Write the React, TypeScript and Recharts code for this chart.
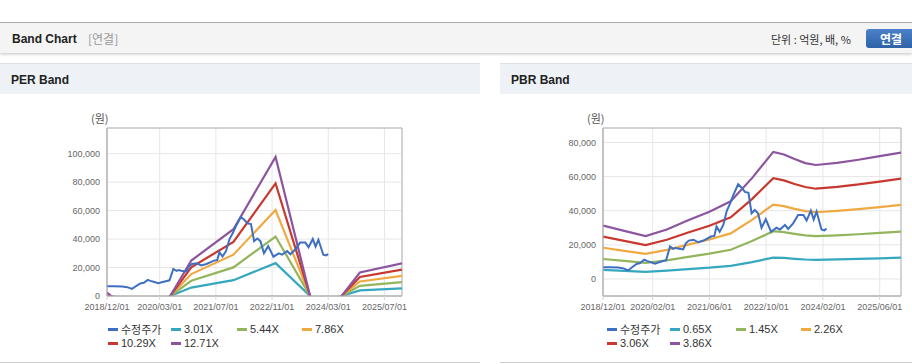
import React from 'react';
import { LineChart, Line, XAxis, YAxis, CartesianGrid, ReferenceArea } from 'recharts';

// ---------- data ----------
const axisStart = '2018/12/01';
const axisEnd = '2025/12/01';

const perTickLabels = ['2018/12/01', '2020/03/01', '2021/07/01', '2022/11/01', '2024/03/01', '2025/07/01'];
const pbrTickLabels = ['2018/12/01', '2020/02/01', '2021/06/01', '2022/10/01', '2024/02/01', '2025/06/01'];

const perYTicks = [0, 20000, 40000, 60000, 80000, 100000];
const perYDomain = [0, 118000];
const pbrYTicks = [0, 20000, 40000, 60000, 80000];
const pbrYDomain = [-10000, 88500];

// adjusted share price
const priceDates = [
  '2018/12/01', '2019/02/01', '2019/04/10', '2019/05/25', '2019/07/04', '2019/08/10', '2019/09/15', '2019/10/15',
  '2019/11/20', '2019/12/12', '2020/01/07', '2020/02/22', '2020/03/18', '2020/04/15', '2020/05/25', '2020/06/28',
  '2020/07/25', '2020/08/15', '2020/09/04', '2020/10/19', '2020/11/13', '2020/12/07', '2021/01/16', '2021/02/28',
  '2021/04/10', '2021/05/22', '2021/06/19', '2021/07/13', '2021/08/01', '2021/08/28', '2021/09/28', '2021/10/28',
  '2021/11/25', '2021/12/22', '2022/02/04', '2022/03/04', '2022/04/01', '2022/05/01', '2022/05/28', '2022/06/25',
  '2022/07/22', '2022/08/22', '2022/09/28', '2022/11/13', '2022/12/28', '2023/01/28', '2023/03/10', '2023/04/07',
  '2023/05/19', '2023/07/01', '2023/08/16', '2023/09/13', '2023/10/19', '2023/11/13', '2023/12/07', '2024/01/19',
  '2024/02/13', '2024/03/01',
];
const priceValues = [
  6800, 6900, 6700, 6200, 5000, 7000, 8800, 9300,
  11300, 10600, 10000, 9000, 9600, 10200, 11000, 19000,
  17600, 18300, 17800, 17300, 21000, 22500, 23000, 21500,
  22500, 24000, 25000, 25200, 30800, 27700, 31500, 40000,
  44000, 49000, 55500, 53500, 51000, 50500, 38500, 40400,
  38500, 30000, 35000, 27600, 30000, 29000, 31600, 29300,
  32600, 37500, 37500, 34200, 40000, 34800, 39500, 29000,
  28500, 29500,
];

// PER band (year-end points)
const perBandDates = ['2018/12/01', '2019/12/01', '2020/12/01', '2021/12/01', '2022/12/01', '2023/12/01', '2024/12/01', '2025/12/01'];
const per301 = [600, -5900, 5900, 11100, 23100, -5100, 3900, 5400];
const per544 = [1100, -10700, 10700, 20100, 41800, -9200, 7100, 9800];
const per786 = [1600, -15400, 15400, 29000, 60400, -13400, 10200, 14100];
const per1029 = [2100, -20200, 20200, 38000, 79100, -17500, 13400, 18500];
const per1271 = [2500, -24900, 24900, 46900, 97700, -21600, 16500, 22900];

// PBR band
const pbrBandDates = [
  '2018/12/01', '2019/06/01', '2019/12/01', '2020/06/01', '2020/12/01', '2021/06/01', '2021/12/01', '2022/06/01',
  '2022/12/01', '2023/03/01', '2023/06/01', '2023/09/01', '2023/12/01', '2024/06/01', '2024/12/01', '2025/06/01', '2025/12/01',
];
const pbr065 = [5300, 4700, 4200, 4900, 5800, 6600, 7700, 9900, 12500, 12300, 11800, 11400, 11200, 11500, 11800, 12100, 12500];
const pbr145 = [11700, 10600, 9400, 10900, 12900, 14800, 17100, 22200, 28000, 27400, 26400, 25500, 25100, 25600, 26200, 27000, 27800];
const pbr226 = [18300, 16500, 14700, 17000, 20100, 23100, 26700, 34600, 43600, 42700, 41100, 39800, 39100, 39900, 40900, 42100, 43400];
const pbr306 = [24800, 22300, 19900, 23000, 27200, 31200, 36100, 46800, 59100, 57800, 55700, 53900, 52900, 54000, 55400, 57100, 58800];
const pbr386 = [31300, 28200, 25100, 29000, 34400, 39400, 45500, 59100, 74500, 73000, 70300, 67900, 66800, 68100, 69900, 72000, 74100];

const perNames = ['수정주가', '3.01X', '5.44X', '7.86X', '10.29X', '12.71X'];
const pbrNames = ['수정주가', '0.65X', '1.45X', '2.26X', '3.06X', '3.86X'];
const seriesColors = ['#3e6fc2', '#35a8c0', '#93b55b', '#f0a941', '#c8382e', '#8d559f'];

// ---------- helpers ----------
const toMonths = (s: string) => {
  const [y, m, d] = s.split('/').map(Number);
  const [y0, m0] = axisStart.split('/').map(Number);
  return (y - y0) * 12 + (m - m0) + ((d || 1) - 1) / 30.4;
};
const rows = (dates: string[], values: number[]) => dates.map((d, i) => ({ m: toMonths(d), v: values[i] }));
const fmt = (v: number) => v.toLocaleString('en-US');

const priceRows = rows(priceDates, priceValues);
const perSeries = [priceRows, ...[per301, per544, per786, per1029, per1271].map((a) => rows(perBandDates, a))];
const pbrSeries = [priceRows, ...[pbr065, pbr145, pbr226, pbr306, pbr386].map((a) => rows(pbrBandDates, a))];

const FONT = '"Liberation Sans", Arial, "Noto Sans CJK KR", sans-serif';
const KFONT = '"Noto Sans CJK KR", "Liberation Sans", sans-serif';

function BandChart(props: {
  left: number; width: number; yWidth: number; rightMargin: number;
  tickLabels: string[]; yTicks: number[]; yDomain: number[]; series: { m: number; v: number }[][];
}) {
  const { left, width, yWidth, rightMargin, tickLabels, yTicks, yDomain, series } = props;
  const ticks = tickLabels.map(toMonths);
  const xMax = toMonths(axisEnd);
  const labelFor = (t: number) => {
    const i = ticks.findIndex((k) => Math.abs(k - t) < 0.01);
    return i >= 0 ? tickLabels[i] : '';
  };
  return (
    <div style={{ position: 'absolute', left, top: 100 }}>
      <LineChart width={width} height={224} margin={{ top: 28, right: rightMargin, bottom: 0, left: 0 }}>
        <CartesianGrid stroke="#e6e6e6" />
        <XAxis
          type="number" dataKey="m" domain={[0, xMax]} ticks={ticks} interval={0} allowDataOverflow
          tickFormatter={labelFor} height={28} tickSize={4} tickMargin={4}
          axisLine={{ stroke: '#b3b3b3' }} tickLine={{ stroke: '#d6d6d6' }}
          tick={{ fontSize: 9, fill: '#666', fontFamily: FONT }}
        />
        <YAxis
          type="number" dataKey="v" domain={yDomain} ticks={yTicks} interval={0} allowDataOverflow
          tickFormatter={fmt} width={yWidth} tickSize={0} tickMargin={7}
          axisLine={{ stroke: '#b3b3b3' }} tickLine={false}
          tick={{ fontSize: 9, fill: '#666', fontFamily: FONT }}
        />
        <ReferenceArea x1={0} x2={xMax} y1={yDomain[0]} y2={yDomain[1]} fill="none" stroke="#b3b3b3" ifOverflow="visible" />
        {series.slice(1).map((data, i) => (
          <Line key={i + 1} data={data} dataKey="v" type="linear" stroke={seriesColors[i + 1]} strokeWidth={2.2}
            dot={false} activeDot={false} isAnimationActive={false} />
        ))}
        <Line data={series[0]} dataKey="v" type="linear" stroke={seriesColors[0]} strokeWidth={2}
          dot={false} activeDot={false} isAnimationActive={false} />
      </LineChart>
    </div>
  );
}

const legendCols = [0, 63, 129, 194];

function BandLegend({ left, names }: { left: number; names: string[] }) {
  return (
    <>
      {names.map((n, i) => {
        const row = i < 4 ? 0 : 1;
        const col = i < 4 ? i : i - 4;
        return (
          <div key={n} style={{ position: 'absolute', left: left + legendCols[col], top: 322 + row * 14, height: 14, display: 'flex', alignItems: 'center', whiteSpace: 'nowrap' }}>
            <span style={{ display: 'inline-block', width: 10, height: 3, background: seriesColors[i], marginRight: 3 }} />
            <span style={{ fontSize: 11, color: '#333', fontFamily: i === 0 ? KFONT : FONT, lineHeight: '14px' }}>{n}</span>
          </div>
        );
      })}
    </>
  );
}

export default function App() {
  return (
    <div style={{ position: 'absolute', left: 0, top: 0, width: 912, height: 364, background: '#fff', overflow: 'hidden', fontFamily: FONT }}>
      {/* header bar */}
      <div style={{ position: 'absolute', left: 0, top: 22, width: 912, height: 30, background: '#f4f4f4', borderTop: '1px solid #a8a8a8', boxShadow: '0 2px 2px #d8d8d8' }} />
      <div style={{ position: 'absolute', left: 12, top: 31, fontSize: 12, fontWeight: 'bold', color: '#222', lineHeight: '16px' }}>Band Chart</div>
      <div style={{ position: 'absolute', left: 88, top: 31, fontSize: 12, color: '#999', fontFamily: KFONT, lineHeight: '16px' }}>[연결]</div>
      <div style={{ position: 'absolute', left: 771, top: 31, fontSize: 11, color: '#333', fontFamily: KFONT, lineHeight: '16px', whiteSpace: 'nowrap' }}>단위 : 억원, 배, %</div>
      <div style={{ position: 'absolute', left: 866, top: 29, width: 50, height: 19, borderRadius: 3, background: 'linear-gradient(#4c82c9, #2e62a8)', color: '#fff', fontSize: 12, fontWeight: 'bold', fontFamily: KFONT, textAlign: 'center', lineHeight: '19px' }}>연결</div>

      {/* panel headers */}
      <div style={{ position: 'absolute', left: 0, top: 63, width: 480, height: 30, background: '#eef2f6', borderTop: '1px solid #dde2e8' }} />
      <div style={{ position: 'absolute', left: 500, top: 63, width: 412, height: 30, background: '#eef2f6', borderTop: '1px solid #dde2e8' }} />
      <div style={{ position: 'absolute', left: 11, top: 72, fontSize: 12, fontWeight: 'bold', color: '#222', lineHeight: '16px' }}>PER Band</div>
      <div style={{ position: 'absolute', left: 511, top: 72, fontSize: 12, fontWeight: 'bold', color: '#222', lineHeight: '16px' }}>PBR Band</div>

      {/* bottom lines */}
      <div style={{ position: 'absolute', left: 0, top: 362, width: 480, height: 1, background: '#d0d0d0' }} />
      <div style={{ position: 'absolute', left: 500, top: 362, width: 412, height: 1, background: '#d0d0d0' }} />

      {/* unit labels */}
      <div style={{ position: 'absolute', left: 91, top: 110, fontSize: 11, color: '#555', fontFamily: KFONT, lineHeight: '16px' }}>(원)</div>
      <div style={{ position: 'absolute', left: 587, top: 110, fontSize: 11, color: '#555', fontFamily: KFONT, lineHeight: '16px' }}>(원)</div>

      <BandChart left={0} width={480} yWidth={107} rightMargin={78} tickLabels={perTickLabels} yTicks={perYTicks} yDomain={perYDomain} series={perSeries} />
      <BandChart left={500} width={412} yWidth={103} rightMargin={11} tickLabels={pbrTickLabels} yTicks={pbrYTicks} yDomain={pbrYDomain} series={pbrSeries} />

      <BandLegend left={108} names={perNames} />
      <BandLegend left={607} names={pbrNames} />
    </div>
  );
}
